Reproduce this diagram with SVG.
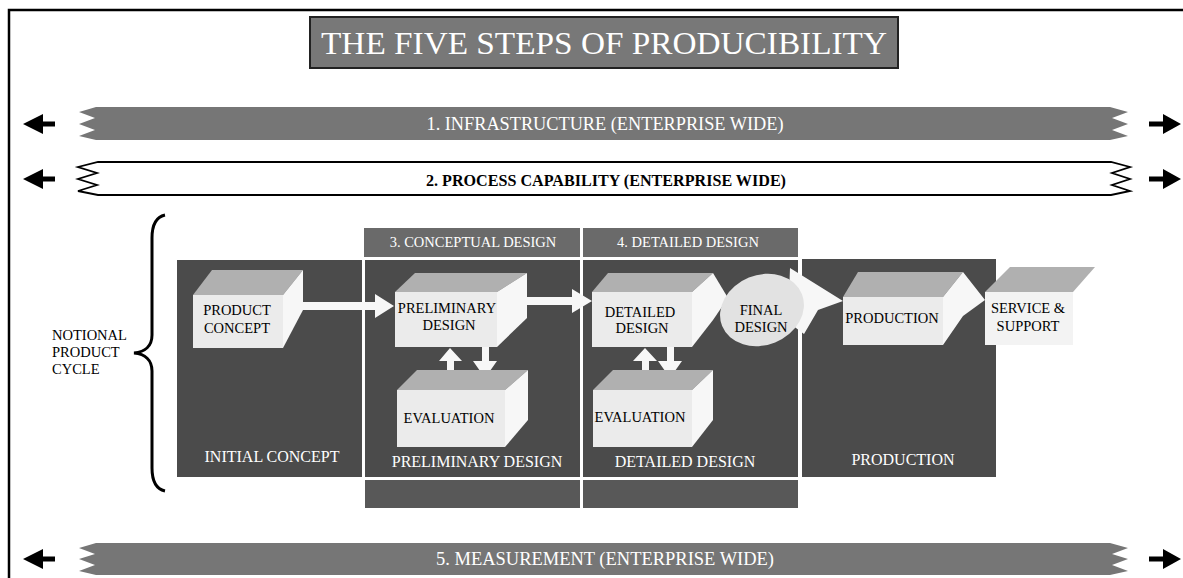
<svg xmlns="http://www.w3.org/2000/svg" width="1183" height="578" viewBox="0 0 1183 578">
<style>
text{font-family:"Liberation Serif","Times New Roman",serif;}
.bx{font-size:14.5px;fill:#000;text-anchor:middle;}
.lbl{font-size:16px;fill:#fff;text-anchor:middle;}
.hdr{font-size:14.5px;fill:#fff;text-anchor:middle;}
.blk{fill:#4b4b4b;}
.hd{fill:#6a6a6a;}
.bot{fill:#585858;}
.front{fill:#ebebeb;}
.top{fill:#b0b0b0;}
.side{fill:#f7f7f7;}
.conn{fill:#f7f7f7;}
.arr{fill:#000;}
.band{fill:#767676;}
</style>

<g id="frame">
<path d="M9,578 V10 H1183" fill="none" stroke="#000" stroke-width="2.5"/>
</g>

<g id="title">
<rect x="310" y="17" width="588" height="51" fill="#787878" stroke="#222" stroke-width="2"/>
<text x="604" y="54" font-size="32" fill="#fff" text-anchor="middle" textLength="566" lengthAdjust="spacingAndGlyphs">THE FIVE STEPS OF PRODUCIBILITY</text>
</g>

<g id="step1-infrastructure">
<polygon class="arr" points="23,124 43,114 43,121.5 55,121.5 55,126.5 43,126.5 43,134"/>
<polygon class="band" points="96,107 1110,107 1128,112 1112,118 1128,124 1112,130 1128,136 1110,140 96,140 79,136 95,130 79,124 95,118 79,112"/>
<text x="605" y="130" font-size="18" fill="#fff" text-anchor="middle" textLength="357" lengthAdjust="spacingAndGlyphs">1. INFRASTRUCTURE (ENTERPRISE WIDE)</text>
<polygon class="arr" points="1181,124 1163,114 1163,121.5 1149,121.5 1149,126.5 1163,126.5 1163,134"/>
</g>

<g id="step2-process-capability">
<polygon class="arr" points="23,179 43,169 43,176.5 55,176.5 55,181.5 43,181.5 43,189"/>
<polygon points="98,162 1111,162 1130,167 1112,173 1130,179 1112,185 1130,191 1111,195 98,195 78,191 97,185 78,179 97,173 78,167" fill="#fff" stroke="#000" stroke-width="1.8" stroke-linejoin="miter"/>
<text x="606" y="186" font-size="17" font-weight="bold" fill="#000" text-anchor="middle" textLength="360" lengthAdjust="spacingAndGlyphs">2. PROCESS CAPABILITY (ENTERPRISE WIDE)</text>
<polygon class="arr" points="1181,179 1163,169 1163,176.5 1149,176.5 1149,181.5 1163,181.5 1163,189"/>
</g>

<g id="notional-product-cycle">
<path d="M165,215 C156,217 152,225 152,238 L152,335 C152,346 145,352 134,353 C145,354 152,360 152,371 L152,468 C152,481 156,489 165,491" fill="none" stroke="#000" stroke-width="3"/>
<text x="52" y="340" font-size="14.5">NOTIONAL</text>
<text x="52" y="357" font-size="14.5">PRODUCT</text>
<text x="52" y="374" font-size="14.5">CYCLE</text>
</g>

<g id="phase-initial-concept">
<rect class="blk" x="177" y="260" width="185" height="217"/>
<text class="lbl" x="272" y="462">INITIAL CONCEPT</text>
</g>

<g id="step3-conceptual-design">
<rect class="hd" x="364" y="228" width="216" height="29"/>
<text class="hdr" x="473" y="247">3. CONCEPTUAL DESIGN</text>
</g>

<g id="step4-detailed-design">
<rect class="hd" x="583" y="228" width="215" height="29"/>
<text class="hdr" x="688" y="247">4. DETAILED DESIGN</text>
</g>

<g id="phase-preliminary-design">
<rect class="blk" x="365" y="260" width="215" height="217"/>
<rect class="bot" x="365" y="480" width="215" height="28"/>
<text class="lbl" x="477" y="467">PRELIMINARY DESIGN</text>
</g>

<g id="phase-detailed-design">
<rect class="blk" x="583" y="260" width="215" height="217"/>
<rect class="bot" x="583" y="480" width="215" height="28"/>
<text class="lbl" x="685" y="467">DETAILED DESIGN</text>
</g>

<g id="phase-production">
<rect class="blk" x="802" y="259" width="194" height="218"/>
<text class="lbl" x="903" y="465">PRODUCTION</text>
</g>

<g id="connectors">
<polygon class="conn" points="303,302 375,302 375,294 394,306 375,318 375,310 303,310"/>
<polygon class="conn" points="527,297 572,297 572,289 592,301 572,313 572,305 527,305"/>
<polygon class="conn" points="450,348 462,361 454,361 454,377 447,377 447,361 439,361"/>
<polygon class="conn" points="482,347 489,347 489,361 497,361 485,378 473,361 482,361"/>
<polygon class="conn" points="645,348 657,361 649,361 649,377 642,377 642,361 633,361"/>
<polygon class="conn" points="667,347 674,347 674,361 682,361 670,378 658,361 667,361"/>
<polygon class="conn" points="790,268 843,301 818,310 804,334 788,322"/>
</g>

<g id="product-concept">
<polygon class="top" points="193,295 212,270 303,270 283,295"/>
<polygon class="side" points="283,295 303,270 303,310 283,348"/>
<rect class="front" x="193" y="295" width="90" height="53"/>
<text class="bx" x="237" y="315">PRODUCT</text>
<text class="bx" x="237" y="333">CONCEPT</text>
</g>

<g id="preliminary-design">
<polygon class="top" points="395,292 415,273 527,273 497,292"/>
<polygon class="side" points="497,292 527,273 527,318 497,347"/>
<rect class="front" x="395" y="292" width="102" height="55"/>
<text class="bx" x="447" y="313">PRELIMINARY</text>
<text class="bx" x="449" y="330">DESIGN</text>
</g>

<g id="evaluation-1">
<polygon class="top" points="397,390 417,370 528,370 505,390"/>
<polygon class="side" points="505,390 528,370 528,420 505,447"/>
<rect class="front" x="397" y="390" width="108" height="57"/>
<text class="bx" x="449" y="423">EVALUATION</text>
</g>

<g id="detailed-design">
<polygon class="top" points="592,292 608,273 713,273 692,292"/>
<polygon class="side" points="692,292 713,273 728,298 713,320 692,347"/>
<rect class="front" x="592" y="292" width="100" height="55"/>
<text class="bx" x="640" y="317">DETAILED</text>
<text class="bx" x="642" y="333">DESIGN</text>
</g>

<g id="evaluation-2">
<polygon class="top" points="593,390 613,370 713,370 692,390"/>
<polygon class="side" points="692,390 713,370 713,420 692,447"/>
<rect class="front" x="593" y="390" width="99" height="57"/>
<text class="bx" x="640" y="422">EVALUATION</text>
</g>

<g id="final-design">
<ellipse cx="762" cy="310" rx="43" ry="35" transform="rotate(-22 762 310)" fill="#e2e2e2"/>
<text class="bx" x="761" y="315">FINAL</text>
<text class="bx" x="761" y="332">DESIGN</text>
</g>

<g id="production">
<polygon class="top" points="843,297 858,272 963,272 943,297"/>
<polygon class="side" points="943,297 963,272 985,300 963,316 943,345"/>
<rect class="front" x="843" y="297" width="100" height="48"/>
<text class="bx" x="892" y="323">PRODUCTION</text>
</g>

<g id="service-support">
<polygon class="top" points="985,292 1010,267 1095,267 1073,292"/>
<rect x="985" y="292" width="88" height="53" fill="#f3f3f3"/>
<text class="bx" x="1028" y="313">SERVICE &amp;</text>
<text class="bx" x="1028" y="331">SUPPORT</text>
</g>

<g id="step5-measurement">
<polygon class="arr" points="23,559 43,549 43,556.5 55,556.5 55,561.5 43,561.5 43,569"/>
<polygon class="band" points="96,543 1110,543 1128,548 1112,554 1128,559 1112,565 1128,571 1110,575 96,575 79,571 95,565 79,559 95,554 79,548"/>
<text x="605" y="565" font-size="18" fill="#fff" text-anchor="middle" textLength="338" lengthAdjust="spacingAndGlyphs">5. MEASUREMENT (ENTERPRISE WIDE)</text>
<polygon class="arr" points="1181,559 1163,549 1163,556.5 1149,556.5 1149,561.5 1163,561.5 1163,569"/>
</g>
</svg>
